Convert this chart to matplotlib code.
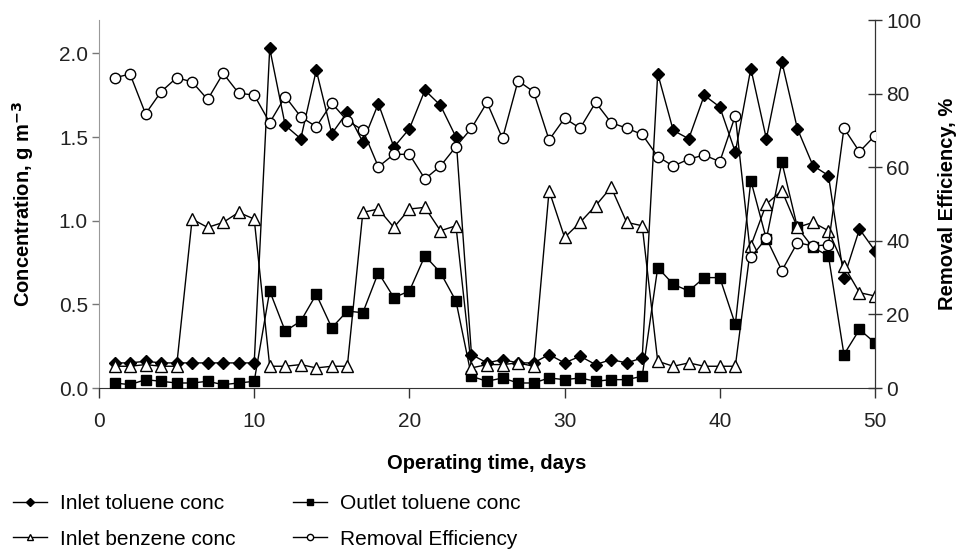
import matplotlib
matplotlib.use("Agg")
import matplotlib.pyplot as plt
from matplotlib.lines import Line2D

plt.rcParams["font.family"] = ["Liberation Sans", "DejaVu Sans"]

days = list(range(1, 51))

# concentrations, g m-3
inlet_toluene = [0.15, 0.15, 0.16, 0.15, 0.15, 0.15, 0.15, 0.15, 0.15, 0.15,
                 2.03, 1.57, 1.49, 1.90, 1.52, 1.65, 1.47, 1.70, 1.44, 1.55,
                 1.78, 1.69, 1.50, 0.20, 0.15, 0.17, 0.15, 0.15, 0.20, 0.15,
                 0.19, 0.14, 0.17, 0.15, 0.18, 1.88, 1.54, 1.49, 1.75, 1.68,
                 1.41, 1.91, 1.49, 1.95, 1.55, 1.33, 1.27, 0.66, 0.95, 0.82]
outlet_toluene = [0.03, 0.02, 0.05, 0.04, 0.03, 0.03, 0.04, 0.02, 0.03, 0.04,
                  0.58, 0.34, 0.40, 0.56, 0.36, 0.46, 0.45, 0.69, 0.54, 0.58,
                  0.79, 0.69, 0.52, 0.07, 0.04, 0.06, 0.03, 0.03, 0.06, 0.05,
                  0.06, 0.04, 0.05, 0.05, 0.07, 0.72, 0.62, 0.58, 0.66, 0.66,
                  0.38, 1.24, 0.89, 1.35, 0.96, 0.84, 0.79, 0.20, 0.35, 0.27]
inlet_benzene = [0.13, 0.13, 0.14, 0.13, 0.13, 1.01, 0.96, 0.99, 1.05, 1.01,
                 0.13, 0.13, 0.14, 0.12, 0.13, 0.13, 1.05, 1.07, 0.96, 1.07,
                 1.08, 0.94, 0.97, 0.12, 0.14, 0.14, 0.15, 0.13, 1.18, 0.90,
                 0.99, 1.09, 1.20, 0.99, 0.97, 0.16, 0.13, 0.15, 0.13, 0.13,
                 0.13, 0.85, 1.10, 1.18, 0.96, 0.99, 0.94, 0.73, 0.57, 0.55]
# removal efficiency, %
removal_eff = [84.3, 85.3, 74.5, 80.5, 84.3, 83.2, 78.4, 85.5, 80.1, 79.6,
               72.1, 79.2, 73.7, 71.0, 77.4, 72.6, 70.1, 60.1, 63.5, 63.5,
               56.8, 60.3, 65.6, 70.6, 77.6, 67.8, 83.5, 80.5, 67.4, 73.3,
               70.6, 77.6, 72.1, 70.6, 68.9, 62.9, 60.3, 62.2, 63.3, 61.5,
               74.0, 35.5, 40.7, 31.9, 39.5, 38.6, 38.9, 70.6, 64.2, 68.6]

fig = plt.figure(figsize=(9.65, 5.51), dpi=100)
ax = fig.add_axes([99 / 965, 1 - 388 / 551, 776 / 965, 368 / 551])
ax2 = ax.twinx()

lw = 1.0
ax.plot(days, inlet_toluene, color="black", lw=lw, marker="D", ms=6,
        mfc="black", mec="black", zorder=3)
ax.plot(days, outlet_toluene, color="black", lw=lw, marker="s", ms=7,
        mfc="black", mec="black", zorder=3)
ax.plot(days, inlet_benzene, color="black", lw=lw, marker="^", ms=8,
        mfc="white", mec="black", mew=1.0, zorder=3)
ax2.plot(days, removal_eff, color="black", lw=lw, marker="o", ms=7.5,
         mfc="white", mec="black", mew=1.0, zorder=3)

ax.set_xlim(0, 50)
ax.set_ylim(0, 2.2)
ax2.set_ylim(0, 100)
ax.set_xticks([0, 10, 20, 30, 40, 50])
ax.set_yticks([0.0, 0.5, 1.0, 1.5, 2.0])
ax.set_yticklabels(["0.0", "0.5", "1.0", "1.5", "2.0"])
ax2.set_yticks([0, 20, 40, 60, 80, 100])

fs = 15
for a in (ax, ax2):
    a.spines["top"].set_visible(False)
ax.spines["left"].set_color("#999999")
ax.spines["bottom"].set_color("#333333")
ax2.spines["right"].set_color("#333333")
ax2.spines["left"].set_visible(False)
ax2.spines["bottom"].set_visible(False)

ax.tick_params(axis="y", direction="out", length=5, width=1.0, color="#777777",
               labelsize=fs, pad=3, labelcolor="#222222")
ax.tick_params(axis="x", direction="out", length=7, width=1.0, color="#333333",
               labelsize=fs, pad=10, labelcolor="#222222")
ax2.tick_params(axis="y", direction="inout", length=10, width=1.0, color="#333333",
                labelsize=fs, pad=3, labelcolor="#222222")

ax.set_xlabel("Operating time, days", fontsize=14.5, fontweight="bold", labelpad=17)
ax.set_ylabel("Concentration, g m$^{\\mathbf{-3}}$", fontsize=14.5, fontweight="bold",
              labelpad=16)
ax2.set_ylabel("Removal Efficiency, %", fontsize=14.5, fontweight="bold", labelpad=12)

handles = [
    Line2D([], [], color="black", lw=lw, marker="D", ms=4, mfc="black"),
    Line2D([], [], color="black", lw=lw, marker="^", ms=5, mfc="white"),
    Line2D([], [], color="black", lw=lw, marker="s", ms=4.5, mfc="black"),
    Line2D([], [], color="black", lw=lw, marker="o", ms=4.5, mfc="white"),
]
labels = ["Inlet toluene conc", "Inlet benzene conc",
          "Outlet toluene conc", "Removal Efficiency"]
fig.legend(handles, labels, loc="upper left", bbox_to_anchor=(13 / 965, 1 - 494 / 551),
           ncol=2, frameon=False, fontsize=fs, handlelength=1.65, borderpad=0,
           borderaxespad=0, handletextpad=0.6, columnspacing=2.75, labelspacing=0.8)

fig.savefig("out.png", dpi=100)
